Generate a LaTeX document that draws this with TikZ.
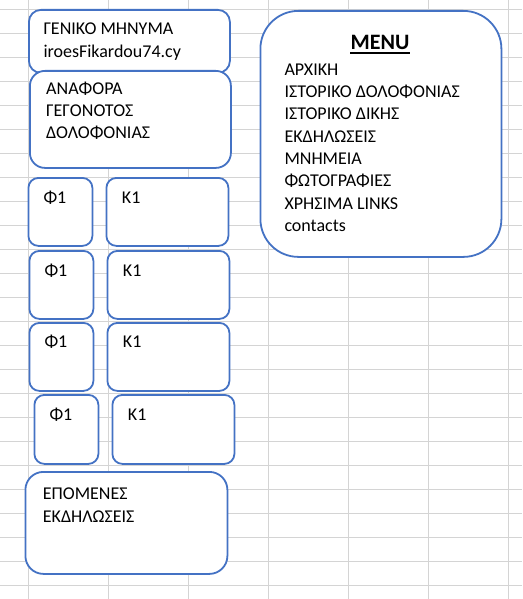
\documentclass[tikz,border=0pt]{standalone}
\usepackage{fontspec}
\setmainfont{Carlito}
\usetikzlibrary{calc}
\definecolor{boxblue}{RGB}{68,114,196}
\definecolor{gridgray}{RGB}{212,212,212}
\tikzset{
  box/.style={draw=boxblue, line width=1.8pt, fill=white, rounded corners=#1, anchor=north west, inner sep=0pt},
  box/.default=12pt,
  txt/.style={anchor=base west, inner sep=0pt, font=\fontsize{18}{21}\selectfont},
  title/.style={anchor=base, inner sep=0pt, font=\fontsize{22}{26}\selectfont\bfseries},
  gridline/.style={draw=gridgray, line width=1pt}
}
\begin{document}
\begin{tikzpicture}[x=1pt,y=-1pt]
\useasboundingbox (0,0) rectangle (522,599);
\fill[white] (0,0) rectangle (522,599);
% spreadsheet grid
\foreach \i in {0,...,6} { \draw[gridline] ({28.3+80*\i},0) -- ({28.3+80*\i},599); }
\foreach \j in {0,...,24} { \draw[gridline] (0,{9.3+24*\j}) -- (522,{9.3+24*\j}); }
% boxes
\node[box=12pt, minimum width=201pt, minimum height=63pt] (gen) at (28,9) {};
\node[box=15pt, minimum width=201pt, minimum height=97pt] (anaf) at (29,70) {};
\node[box=38pt, minimum width=241pt, minimum height=246pt] (menu) at (259.5,10) {};
\node[box=10pt, minimum width=64pt, minimum height=68pt] (f1) at (27.5,177) {};
\node[box=10pt, minimum width=122pt, minimum height=68pt] (k1) at (105.5,177) {};
\node[box=10pt, minimum width=64pt, minimum height=68pt] (f2) at (28.5,250) {};
\node[box=10pt, minimum width=122pt, minimum height=68pt] (k2) at (106.5,250) {};
\node[box=10pt, minimum width=64pt, minimum height=68pt] (f3) at (28.5,322) {};
\node[box=10pt, minimum width=122pt, minimum height=68pt] (k3) at (106.5,322) {};
\node[box=10pt, minimum width=64pt, minimum height=69pt] (f4) at (33.5,394) {};
\node[box=10pt, minimum width=122pt, minimum height=69pt] (k4) at (111.5,394) {};
\node[box=18pt, minimum width=202pt, minimum height=102pt] (epom) at (24.5,471) {};
% texts
\node[txt] (g1) at (43.3,35) {ΓΕΝΙΚΟ ΜΗΝΥΜΑ};
\node[txt] (g2) at (43.3,58) {iroesFikardou74.cy};
\node[txt] (a1) at (46,94.5) {ΑΝΑΦΟΡΑ};
\node[txt] (a2) at (46,116.5) {ΓΕΓΟΝΟΤΟΣ};
\node[txt] (a3) at (46,138.5) {ΔΟΛΟΦΟΝΙΑΣ};
\node[title] (mt) at (380,50) {MENU};
\draw[line width=2pt] ($(mt.base west)+(0,3)$) -- ($(mt.base east)+(0,3)$);
\node[txt] (m1) at (284.3,75.3) {ΑΡΧΙΚΗ};
\node[txt] (m2) at (284.3,97.6) {ΙΣΤΟΡΙΚΟ ΔΟΛΟΦΟΝΙΑΣ};
\node[txt] (m3) at (284.3,119.9) {ΙΣΤΟΡΙΚΟ ΔΙΚΗΣ};
\node[txt] (m4) at (284.3,142.2) {ΕΚΔΗΛΩΣΕΙΣ};
\node[txt] (m5) at (284.3,164.5) {ΜΝΗΜΕΙΑ};
\node[txt] (m6) at (284.3,186.8) {ΦΩΤΟΓΡΑΦΙΕΣ};
\node[txt] (m7) at (284.3,209.1) {ΧΡΗΣΙΜΑ LINKS};
\node[txt] (m8) at (284.3,231.4) {contacts};
\node[txt] (tf1) at (43.3,203.3) {Φ1};
\node[txt] (tk1) at (121.7,203.3) {Κ1};
\node[txt] (tf2) at (44.3,276) {Φ1};
\node[txt] (tk2) at (122.7,276) {Κ1};
\node[txt] (tf3) at (44.3,347.7) {Φ1};
\node[txt] (tk3) at (122.7,347.7) {Κ1};
\node[txt] (tf4) at (49.3,420) {Φ1};
\node[txt] (tk4) at (127.7,420) {Κ1};
\node[txt] (e1) at (42.7,499) {ΕΠΟΜΕΝΕΣ};
\node[txt] (e2) at (42.7,522.3) {ΕΚΔΗΛΩΣΕΙΣ};
\end{tikzpicture}
\end{document}
